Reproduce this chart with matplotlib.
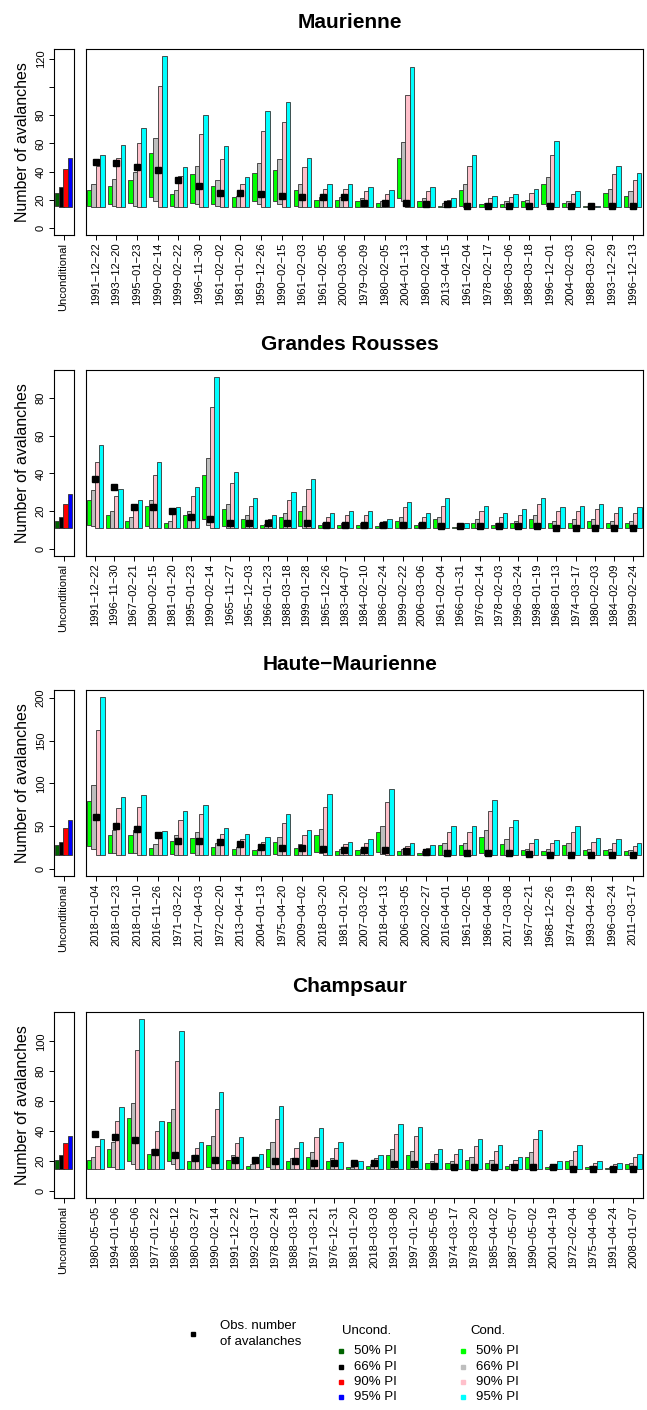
import numpy as np
import matplotlib.pyplot as plt

plt.rcParams['font.family'] = ['Liberation Sans', 'DejaVu Sans']

# ---- data ----
levels = ['50% PI', '66% PI', '90% PI', '95% PI']

# Maurienne
maur_dates = ['1991-12-22', '1993-12-20', '1995-01-23', '1990-02-14', '1999-02-22', '1996-11-30',
              '1961-02-02', '1981-01-20', '1959-12-26', '1990-02-15', '1961-02-03', '1961-02-05',
              '2000-03-06', '1979-02-09', '1980-02-05', '2004-01-13', '1980-02-04', '2013-04-15',
              '1961-02-04', '1978-02-17', '1986-03-06', '1988-03-18', '1996-12-01', '2004-02-03',
              '1988-03-20', '1993-12-29', '1996-12-13']
maur_obs = [47, 46, 43, 41, 34, 30, 25, 25, 24, 23, 22, 22, 22, 18, 18, 18, 17, 17, 16, 16, 16, 16,
            16, 16, 15.5, 15.5, 15.5]
maur_lo50 = [16, 17, 18, 22, 16, 18, 17, 15, 19, 19, 16, 15, 15, 15, 15, 21, 15, 15, 16, 15, 15, 15,
             17, 15, 15, 15, 15]
maur_hi50 = [27, 30, 34, 53, 24, 38, 30, 22, 39, 41, 27, 20, 20, 19, 18, 50, 19, 16, 27, 17, 17, 19,
             31, 18, 15.5, 25, 23]
maur_lo66 = [15, 16, 16, 19, 15, 17, 16, 15, 17, 17, 15, 15, 15, 15, 15, 19, 15, 15, 15, 15, 15, 15,
             16, 15, 15, 15, 15]
maur_hi66 = [31, 35, 40, 64, 27, 44, 34, 23, 46, 49, 31, 22, 22, 21, 19, 61, 21, 18, 31, 18, 19, 20,
             36, 19, 15.5, 28, 26]
maur_lo90 = [15] * 27
maur_hi90 = [44, 50, 60, 101, 37, 67, 49, 31, 69, 75, 43, 28, 28, 26, 24, 94, 26, 20, 44, 21, 22, 25,
             52, 24, 16, 38, 34]
maur_lo95 = [15] * 27
maur_hi95 = [52, 59, 71, 122, 43, 80, 58, 36, 83, 89, 50, 31, 31, 29, 27, 114, 29, 21, 52, 23, 24, 28,
             62, 26, 16, 44, 39]
maur_ulo = [16, 15, 15, 15]
maur_uhi = [25, 29, 42, 50]

# Grandes Rousses
gr_dates = ['1991-12-22', '1996-11-30', '1967-02-21', '1990-02-15', '1981-01-20', '1995-01-23',
            '1990-02-14', '1965-11-27', '1965-12-03', '1966-01-23', '1988-03-18', '1999-01-28',
            '1965-12-26', '1983-04-07', '1984-02-10', '1986-02-24', '1999-02-22', '2006-03-06',
            '1961-02-04', '1966-01-31', '1976-02-14', '1978-02-03', '1996-03-24', '1998-01-19',
            '1968-01-13', '1974-03-17', '1980-02-03', '1984-02-09', '1999-02-24']
gr_obs = [37, 33, 22, 22, 20, 17, 16, 14, 14, 14, 14, 14, 13, 13, 13, 13, 13, 13, 12, 12, 12, 12, 12,
          12, 11, 11, 11, 11, 11]
gr_lo50 = [13, 11, 11, 12, 11, 11, 16, 12, 11, 11, 11, 12, 11, 11, 11, 11, 11, 11, 11, 11, 11, 11, 11,
           11, 11, 11, 11, 11, 11]
gr_hi50 = [26, 18, 15, 23, 14, 18, 39, 21, 16, 13, 17, 20, 13, 13, 13, 12, 15, 13, 16, 11.5, 14, 13,
           14, 16, 14, 14, 15, 14, 14]
gr_lo66 = [12, 11, 11, 11, 11, 11, 13, 11, 11, 11, 11, 11, 11, 11, 11, 11, 11, 11, 11, 11, 11, 11, 11,
           11, 11, 11, 11, 11, 11]
gr_hi66 = [31, 20, 17, 26, 15, 20, 48, 24, 18, 13.5, 19, 23, 14, 14, 14, 14, 17, 14, 17, 11.5, 16, 14,
           15, 18, 15, 16, 16, 15, 15]
gr_lo90 = [11] * 29
gr_hi90 = [46, 28, 22, 39, 20, 28, 75, 35, 23, 16, 26, 32, 17, 18, 18, 15, 22, 17, 23, 12, 20, 17, 18,
           24, 20, 20, 21, 19, 19]
gr_lo95 = [11] * 29
gr_hi95 = [55, 32, 26, 46, 22, 33, 91, 41, 27, 18, 30, 37, 19, 20, 20, 16, 25, 19, 27, 14, 23, 19, 21,
           27, 22, 23, 24, 22, 22]
gr_ulo = [11, 11, 11, 11]
gr_uhi = [15, 17, 24, 29]

# Haute-Maurienne
hm_dates = ['2018-01-04', '2018-01-23', '2018-01-10', '2016-11-26', '1971-03-22', '2017-04-03',
            '1972-02-20', '2013-04-14', '2004-01-13', '1975-04-20', '2009-04-02', '2018-03-20',
            '1981-01-20', '2007-03-02', '2018-04-13', '2006-03-05', '2002-02-27', '2016-04-01',
            '1961-02-05', '1986-04-08', '2017-03-08', '1967-02-21', '1968-12-26', '1974-02-19',
            '1993-04-28', '1996-03-24', '2011-03-17']
hm_obs = [61, 50, 47, 40, 33, 33, 32, 29, 26, 25, 25, 23, 22, 22, 22, 21, 20, 19, 19, 19, 19, 18, 17,
          17, 17, 17, 17]
hm_lo50 = [27, 19, 19, 16, 18, 19, 16, 16, 16, 18, 16, 20, 16, 16, 20, 16, 16, 16, 16, 19, 16, 16, 16,
           16, 16, 16, 16]
hm_hi50 = [79, 40, 40, 25, 33, 36, 26, 24, 22, 32, 25, 40, 21, 22, 43, 21, 19, 28, 28, 38, 29, 22, 21,
           28, 22, 22, 21]
hm_lo66 = [23, 19, 19, 16, 16, 17, 16, 16, 16, 16, 16, 19, 16, 16, 18, 16, 16, 16, 16, 17, 16, 16, 16,
           16, 16, 16, 16]
hm_hi66 = [98, 46, 46, 29, 40, 43, 31, 26, 24, 38, 29, 47, 23, 24, 50, 23, 21, 30, 30, 46, 35, 24, 23,
           31, 24, 24, 22]
hm_lo90 = [17, 16, 16, 16, 16, 16, 16, 16, 16, 16, 16, 16, 16, 16, 16, 16, 16, 16, 16, 16, 16, 16, 16,
           16, 16, 16, 16]
hm_hi90 = [162, 71, 72, 37, 57, 64, 41, 35, 32, 54, 40, 72, 29, 31, 78, 27, 25, 43, 43, 68, 49, 31, 30,
           43, 32, 31, 27]
hm_lo95 = [16] * 27
hm_hi95 = [201, 84, 86, 45, 68, 75, 48, 41, 38, 64, 46, 88, 32, 35, 94, 31, 28, 50, 50, 81, 57, 35, 34,
           50, 36, 35, 30]
hm_ulo = [16, 16, 16, 16]
hm_uhi = [28, 32, 48, 57]

# Champsaur
ch_dates = ['1980-05-05', '1994-01-06', '1988-05-06', '1977-01-22', '1986-05-12', '1980-03-27',
            '1990-02-14', '1991-12-22', '1992-03-17', '1978-02-24', '1988-03-18', '1971-03-21',
            '1976-12-31', '1981-01-20', '2018-03-03', '1991-03-08', '1997-01-20', '1998-05-05',
            '1974-03-17', '1978-03-20', '1985-04-02', '1987-05-07', '1990-05-02', '2001-04-19',
            '1972-02-04', '1975-04-06', '1991-04-24', '2008-01-07']
ch_obs = [38, 36, 34, 26, 24, 22, 21, 21, 21, 20, 20, 19, 19, 19, 19, 18, 18, 17, 16, 16, 16, 16, 16,
          16, 15, 15, 15, 15]
ch_lo50 = [15, 16, 20, 15, 20, 15, 16, 15, 15, 16, 15, 15, 15, 15, 15, 15, 15, 15, 15, 15, 15, 15, 15,
           15, 15, 15, 15, 15]
ch_hi50 = [21, 28, 49, 25, 46, 20, 31, 21, 17, 28, 20, 23, 20, 16, 17, 24, 24, 19, 19, 21, 19, 17, 23,
           16, 20, 16, 15.5, 18]
ch_lo66 = [15, 16, 18, 15, 18, 15, 15, 15, 15, 15, 15, 15, 15, 15, 15, 15, 15, 15, 15, 15, 15, 15, 15,
           15, 15, 15, 15, 15]
ch_hi66 = [23, 33, 59, 28, 55, 24, 37, 24, 18, 33, 22, 26, 22, 16, 18, 28, 27, 20, 20, 23, 21, 18, 26,
           16.5, 21, 17, 16, 19]
ch_lo90 = [15] * 28
ch_hi90 = [30, 47, 94, 40, 87, 29, 55, 32, 21, 48, 29, 36, 29, 18, 22, 38, 37, 25, 25, 30, 27, 21, 35,
           18, 27, 19, 18, 23]
ch_lo95 = [15] * 28
ch_hi95 = [35, 56, 115, 47, 107, 33, 66, 36, 25, 57, 33, 42, 33, 20, 24, 45, 43, 28, 28, 35, 31, 23,
           41, 20, 31, 20, 19, 25]
ch_ulo = [15, 15, 15, 15]
ch_uhi = [21, 24, 32, 37]

# ---- style ----
cond_cols = ['#00ff00', '#bebebe', '#ffc0cb', '#00ffff']
uncond_cols = ['#006400', '#000000', '#ff0000', '#0000ff']
offs = [-0.315, -0.105, 0.105, 0.315]
bw = 0.22

W, H = 647, 1410
fig = plt.figure(figsize=(W / 100, H / 100), dpi=100)


def rect(x0, y0, x1, y1):
    # pixel box (top-left origin) -> figure fraction
    return [x0 / W, 1 - y1 / H, (x1 - x0) / W, (y1 - y0) / H]


def mdash(s):
    return s.replace('-', '\u2212')


def panel(top, name, dates, obs, lows, highs, ulo, uhi, yticks, ylabs):
    bot = top + 186
    ymax = max(max(h) for h in highs)
    ylim = (-0.04 * ymax, 1.04 * ymax)

    axu = fig.add_axes(rect(53.5, top, 73.5, bot))
    axm = fig.add_axes(rect(85.5, top, 643, bot))

    for k in range(4):
        axu.bar(offs[k], uhi[k] - ulo[k], bottom=ulo[k], width=bw, color=uncond_cols[k],
                edgecolor='#333333', lw=0.6)
    x = np.arange(len(dates))
    for k in range(4):
        lo = np.array(lows[k], float)
        hi = np.array(highs[k], float)
        axm.bar(x + offs[k], hi - lo, bottom=lo, width=bw, color=cond_cols[k],
                edgecolor='#333333', lw=0.6)
    axm.plot(x, obs, 's', color='black', ms=3.8, zorder=5)

    for ax in (axu, axm):
        ax.set_ylim(*ylim)
        for sp in ax.spines.values():
            sp.set_linewidth(0.8)
        ax.tick_params(axis='x', length=3.5, width=0.7, pad=2, labelsize=8)
    axu.set_xlim(-0.5, 0.5)
    axm.set_xlim(-0.5, len(dates) - 0.5)

    axu.set_xticks([0])
    axu.set_xticklabels(['Unconditional'], rotation=90)
    axu.set_yticks(yticks)
    axu.set_yticklabels(ylabs, rotation=90, va='center')
    axu.tick_params(axis='y', length=3.5, width=0.7, pad=2, labelsize=8)
    axu.set_ylabel('Number of avalanches', fontsize=11.5, labelpad=4)

    axm.set_xticks(x)
    axm.set_xticklabels([mdash(d) for d in dates], rotation=90)
    axm.set_yticks([])

    fig.text(350 / W, 1 - (top - 26) / H, mdash(name), ha='center', va='center',
             fontsize=15, fontweight='bold')


panel(49, 'Maurienne', maur_dates, maur_obs,
      [maur_lo50, maur_lo66, maur_lo90, maur_lo95],
      [maur_hi50, maur_hi66, maur_hi90, maur_hi95],
      maur_ulo, maur_uhi, [0, 20, 40, 60, 80, 100, 120], ['0', '20', '40', '60', '80', '', '120'])
panel(370, 'Grandes Rousses', gr_dates, gr_obs,
      [gr_lo50, gr_lo66, gr_lo90, gr_lo95],
      [gr_hi50, gr_hi66, gr_hi90, gr_hi95],
      gr_ulo, gr_uhi, [0, 20, 40, 60, 80], ['0', '20', '40', '60', '80'])
panel(690, 'Haute-Maurienne', hm_dates, hm_obs,
      [hm_lo50, hm_lo66, hm_lo90, hm_lo95],
      [hm_hi50, hm_hi66, hm_hi90, hm_hi95],
      hm_ulo, hm_uhi, [0, 50, 100, 150, 200], ['0', '50', '100', '150', '200'])
panel(1012, 'Champsaur', ch_dates, ch_obs,
      [ch_lo50, ch_lo66, ch_lo90, ch_lo95],
      [ch_hi50, ch_hi66, ch_hi90, ch_hi95],
      ch_ulo, ch_uhi, [0, 20, 40, 60, 80, 100], ['0', '20', '40', '60', '80', '100'])

# ---- legend (pixel coordinates) ----
lg = fig.add_axes([0, 0, 1, 1], zorder=-1)
lg.set_xlim(0, W)
lg.set_ylim(H, 0)
lg.axis('off')

lg.plot(193, 1334, 's', color='black', ms=3.5)
lg.text(220, 1326, 'Obs. number', fontsize=9.5, va='center', ha='left')
lg.text(220, 1342, 'of avalanches', fontsize=9.5, va='center', ha='left')
lg.text(342, 1331, 'Uncond.', fontsize=9.5, va='center', ha='left')
lg.text(470, 1331, 'Cond.', fontsize=9.5, va='center', ha='left')
rows = [1351, 1367, 1382, 1397]
for k in range(4):
    lg.plot(340.5, rows[k], 's', color=uncond_cols[k], ms=3.3)
    lg.text(354, rows[k], levels[k], fontsize=9.5, va='center', ha='left')
    lg.plot(463, rows[k], 's', color=cond_cols[k], ms=3.3)
    lg.text(476, rows[k], levels[k], fontsize=9.5, va='center', ha='left')

fig.savefig('out.png', dpi=100)
